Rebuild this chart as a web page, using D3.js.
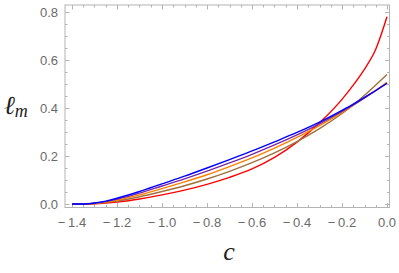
<!DOCTYPE html>
<html>
<head>
<meta charset="utf-8">
<script src="https://cdn.jsdelivr.net/npm/d3@7"></script>
<style>
  body { margin: 0; background: #fff; }
  svg { display: block; }
</style>
</head>
<body>
<script>
// data
var cValues   = [-1.4, -1.35, -1.3, -1.25, -1.2, -1.1, -1.0, -0.9, -0.8, -0.7, -0.6, -0.5, -0.4, -0.3, -0.2, -0.15, -0.1, -0.05, 0.0];
var redVals    = [0, 0, 0.001, 0.004, 0.008, 0.021, 0.038, 0.058, 0.082, 0.111, 0.146, 0.194, 0.258, 0.338, 0.436, 0.495, 0.562, 0.645, 0.780];
var brownVals  = [0, 0, 0.002, 0.006, 0.012, 0.030, 0.052, 0.076, 0.104, 0.136, 0.172, 0.213, 0.260, 0.314, 0.377, 0.413, 0.453, 0.496, 0.540];
var orangeVals = [0, 0, 0.003, 0.008, 0.016, 0.038, 0.064, 0.092, 0.122, 0.156, 0.192, 0.233, 0.278, 0.327, 0.382, 0.411, 0.442, 0.474, 0.507];
var purpleVals = [0, 0, 0.004, 0.010, 0.020, 0.045, 0.075, 0.105, 0.137, 0.171, 0.207, 0.246, 0.288, 0.334, 0.386, 0.413, 0.442, 0.472, 0.503];
var blueVals   = [0, 0, 0.004, 0.012, 0.024, 0.052, 0.084, 0.116, 0.150, 0.185, 0.221, 0.259, 0.298, 0.341, 0.390, 0.416, 0.444, 0.473, 0.503];

var xTicks = [-1.4, -1.2, -1.0, -0.8, -0.6, -0.4, -0.2, 0.0];
var yTicks = [0.0, 0.2, 0.4, 0.6, 0.8];

var series = [
  { vals: redVals,    color: '#ff0000' },
  { vals: brownVals,  color: '#a0703a' },
  { vals: orangeVals, color: '#ff8000' },
  { vals: purpleVals, color: '#7a2aa8' },
  { vals: blueVals,   color: '#0000ff' }
];

/***********************************************************************************/
// Setup

var W = 399, H = 273;
var frame = { left: 65, right: 389.5, top: 5, bottom: 207.5 };

var x = d3.scaleLinear().domain([-1.4, 0]).range([72, 387]);
var y = d3.scaleLinear().domain([0, 0.8]).range([204, 12]);

var svg = d3.select('body').append('svg').attr('width', W).attr('height', H);

var gray = '#b4b4b4';
var fmt = function(d){ var s = Math.abs(d).toFixed(1); return d < -1e-9 ? '\u2212\u2009' + s : s; };

/***********************************************************************************/
// Ticks (inward, all four sides)

var minorX = d3.range(-1.4, 0.001, 0.05).map(function(d){ return +d.toFixed(2); });
var minorY = d3.range(0, 0.826, 0.05).map(function(d){ return +d.toFixed(2); });

var ticks = svg.append('g').attr('stroke', gray).attr('stroke-width', 1);

function isMajor(v, list){ return list.some(function(t){ return Math.abs(t - v) < 1e-6; }); }

minorX.forEach(function(v){
  var len = isMajor(v, xTicks) ? 4.5 : 2.5;
  var px = Math.round(x(v)) + 0.5;
  ticks.append('line').attr('x1', px).attr('x2', px).attr('y1', frame.bottom).attr('y2', frame.bottom - len);
  ticks.append('line').attr('x1', px).attr('x2', px).attr('y1', frame.top).attr('y2', frame.top + len);
});
minorY.forEach(function(v){
  var len = isMajor(v, yTicks) ? 4.5 : 2.5;
  var py = Math.round(y(v)) + 0.5;
  ticks.append('line').attr('y1', py).attr('y2', py).attr('x1', frame.left).attr('x2', frame.left + len);
  ticks.append('line').attr('y1', py).attr('y2', py).attr('x1', frame.right).attr('x2', frame.right - len);
});

svg.append('rect')
  .attr('x', frame.left).attr('y', frame.top)
  .attr('width', frame.right - frame.left).attr('height', frame.bottom - frame.top)
  .attr('fill', 'none').attr('stroke', gray).attr('stroke-width', 1);

/***********************************************************************************/
// Curves

var line = d3.line()
  .x(function(d, i){ return x(cValues[i]); })
  .y(function(d){ return y(d); })
  .curve(d3.curveMonotoneX);

svg.append('g').selectAll('path').data(series).enter().append('path')
  .attr('d', function(s){ return line(s.vals); })
  .attr('fill', 'none')
  .attr('stroke', function(s){ return s.color; })
  .attr('stroke-width', 1.4);

/***********************************************************************************/
// Tick labels

var lab = svg.append('g').attr('font-family', '"Liberation Sans", Arial, sans-serif')
  .attr('font-size', 13).attr('fill', '#6a6a6a');

lab.selectAll('.xl').data(xTicks).enter().append('text')
  .attr('x', function(d){ return x(d); }).attr('y', 227)
  .attr('text-anchor', 'middle').text(fmt);

lab.selectAll('.yl').data(yTicks).enter().append('text')
  .attr('x', 58).attr('y', function(d){ return y(d) + 4.5; })
  .attr('text-anchor', 'end').text(fmt);

/***********************************************************************************/
// Axis labels

svg.append('text')
  .attr('x', 229).attr('y', 260)
  .attr('text-anchor', 'middle')
  .attr('font-family', '"Liberation Serif", "DejaVu Serif", serif')
  .attr('font-style', 'italic').attr('font-size', 26).attr('fill', '#222')
  .text('c');

var yl = svg.append('text')
  .attr('x', 4).attr('y', 114)
  .attr('font-family', '"DejaVu Serif", "Liberation Serif", serif')
  .attr('font-style', 'italic').attr('fill', '#222');
yl.append('tspan').attr('font-size', 26).text('\u2113');
yl.append('tspan').attr('font-size', 18).attr('font-family', '"Liberation Serif", serif').attr('dy', 3).text('m');
</script>
</body>
</html>
